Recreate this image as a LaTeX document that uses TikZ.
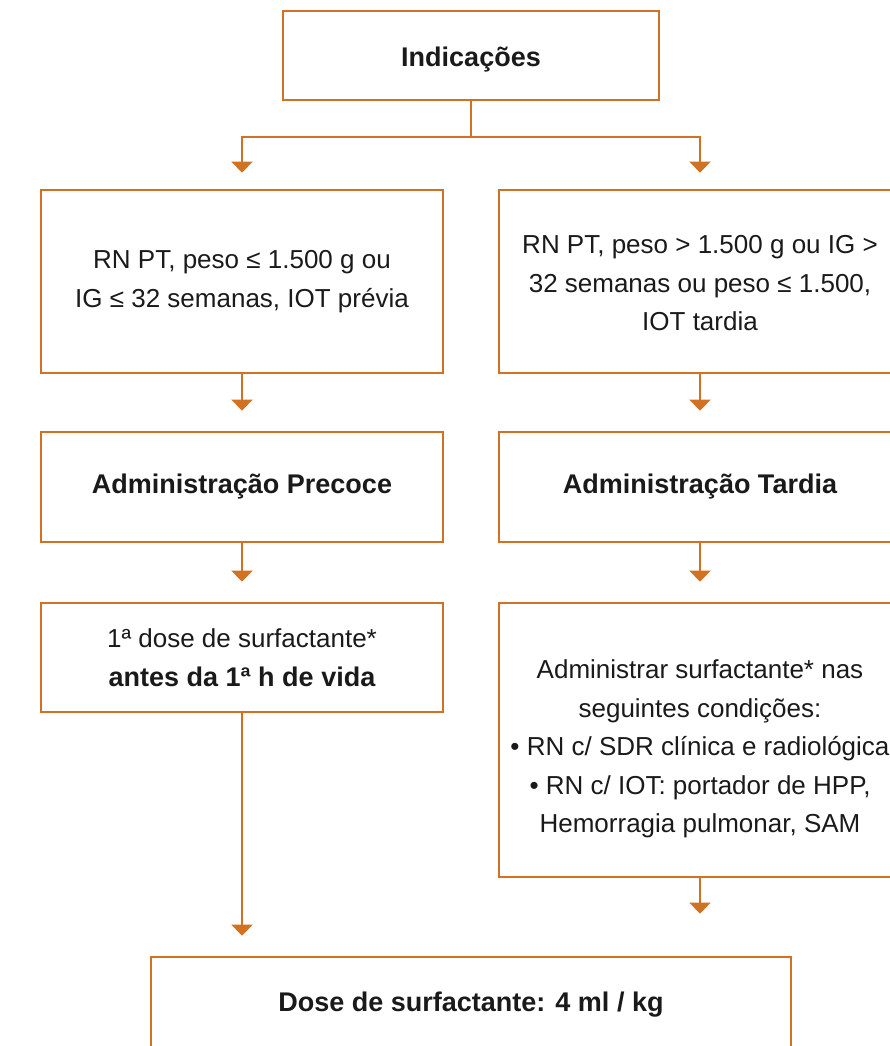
\documentclass[tikz,border=0pt]{standalone}
\usepackage{fontspec}
\setmainfont{Liberation Sans}
\usetikzlibrary{arrows.meta}
\definecolor{orng}{HTML}{D07123}
\definecolor{txt}{HTML}{1A1A1A}
\newcommand{\lowered}[2]{\raisebox{-#1}[\height][\depth]{\begin{tabular}{@{}c@{}}#2\end{tabular}}}
\tikzset{
  box/.style={draw=orng, line width=2.8pt, fill=white, rectangle, align=center, inner sep=0pt, text=txt,
    font=\fontsize{26}{38.5}\selectfont},
  arr/.style={draw=orng, line width=2.8pt, -{Triangle[width=21pt,length=11pt]}},
  ln/.style={draw=orng, line width=2.8pt}
}
\begin{document}
\begin{tikzpicture}[x=1pt,y=-1pt]
\useasboundingbox (0,0) rectangle (890,1046);
\clip (0,0) rectangle (890,1046);
\node[box, minimum width=376pt, minimum height=89pt] (T) at (471,55.5) {\lowered{3pt}{\fontsize{27}{38.5}\selectfont\bfseries Indicações}};
\node[box, minimum width=402pt, minimum height=183pt] (L1) at (242,281.5) {RN PT, peso ≤ 1.500 g ou\\IG ≤ 32 semanas, IOT prévia};
\node[box, minimum width=402pt, minimum height=183pt] (R1) at (700,281.5) {\lowered{3pt}{RN PT, peso > 1.500 g ou IG >\\32 semanas ou peso ≤ 1.500,\\IOT tardia}};
\node[box, minimum width=402pt, minimum height=110pt] (L2) at (242,487) {\fontsize{27}{38.5}\selectfont\bfseries Administração Precoce};
\node[box, minimum width=402pt, minimum height=110pt] (R2) at (700,487) {\fontsize{27}{38.5}\selectfont\bfseries Administração Tardia};
\node[box, minimum width=402pt, minimum height=109pt] (L3) at (242,657.5) {1ª dose de surfactante*\\\fontsize{27}{38.5}\selectfont\bfseries antes da 1ª h de vida};
\node[box, minimum width=402pt, minimum height=274pt] (R3) at (700,740) {\lowered{8pt}{Administrar surfactante* nas\\seguintes condições:\\• RN c/ SDR clínica e radiológica\\• RN c/ IOT: portador de HPP,\\Hemorragia pulmonar, SAM}};
\node[box, minimum width=640pt, minimum height=96pt] (B) at (471,1005) {\fontsize{27}{38.5}\selectfont\bfseries Dose de surfactante: 4 ml / kg};
\coordinate (J) at (471,137);
\draw[ln] (T.south) -- (J);
\draw[arr, shorten >=16pt] (J) -| (L1.north);
\draw[arr, shorten >=16pt] (J) -| (R1.north);
\draw[arr, shorten >=20pt] (L1.south) -- (L2.north);
\draw[arr, shorten >=20pt] (R1.south) -- (R2.north);
\draw[arr, shorten >=20pt] (L2.south) -- (L3.north);
\draw[arr, shorten >=20pt] (R2.south) -- (R3.north);
\draw[arr, shorten >=20pt] (L3.south) -- (L3.south |- B.north);
\draw[arr, shorten >=42pt] (R3.south) -- (R3.south |- B.north);
\end{tikzpicture}
\end{document}
